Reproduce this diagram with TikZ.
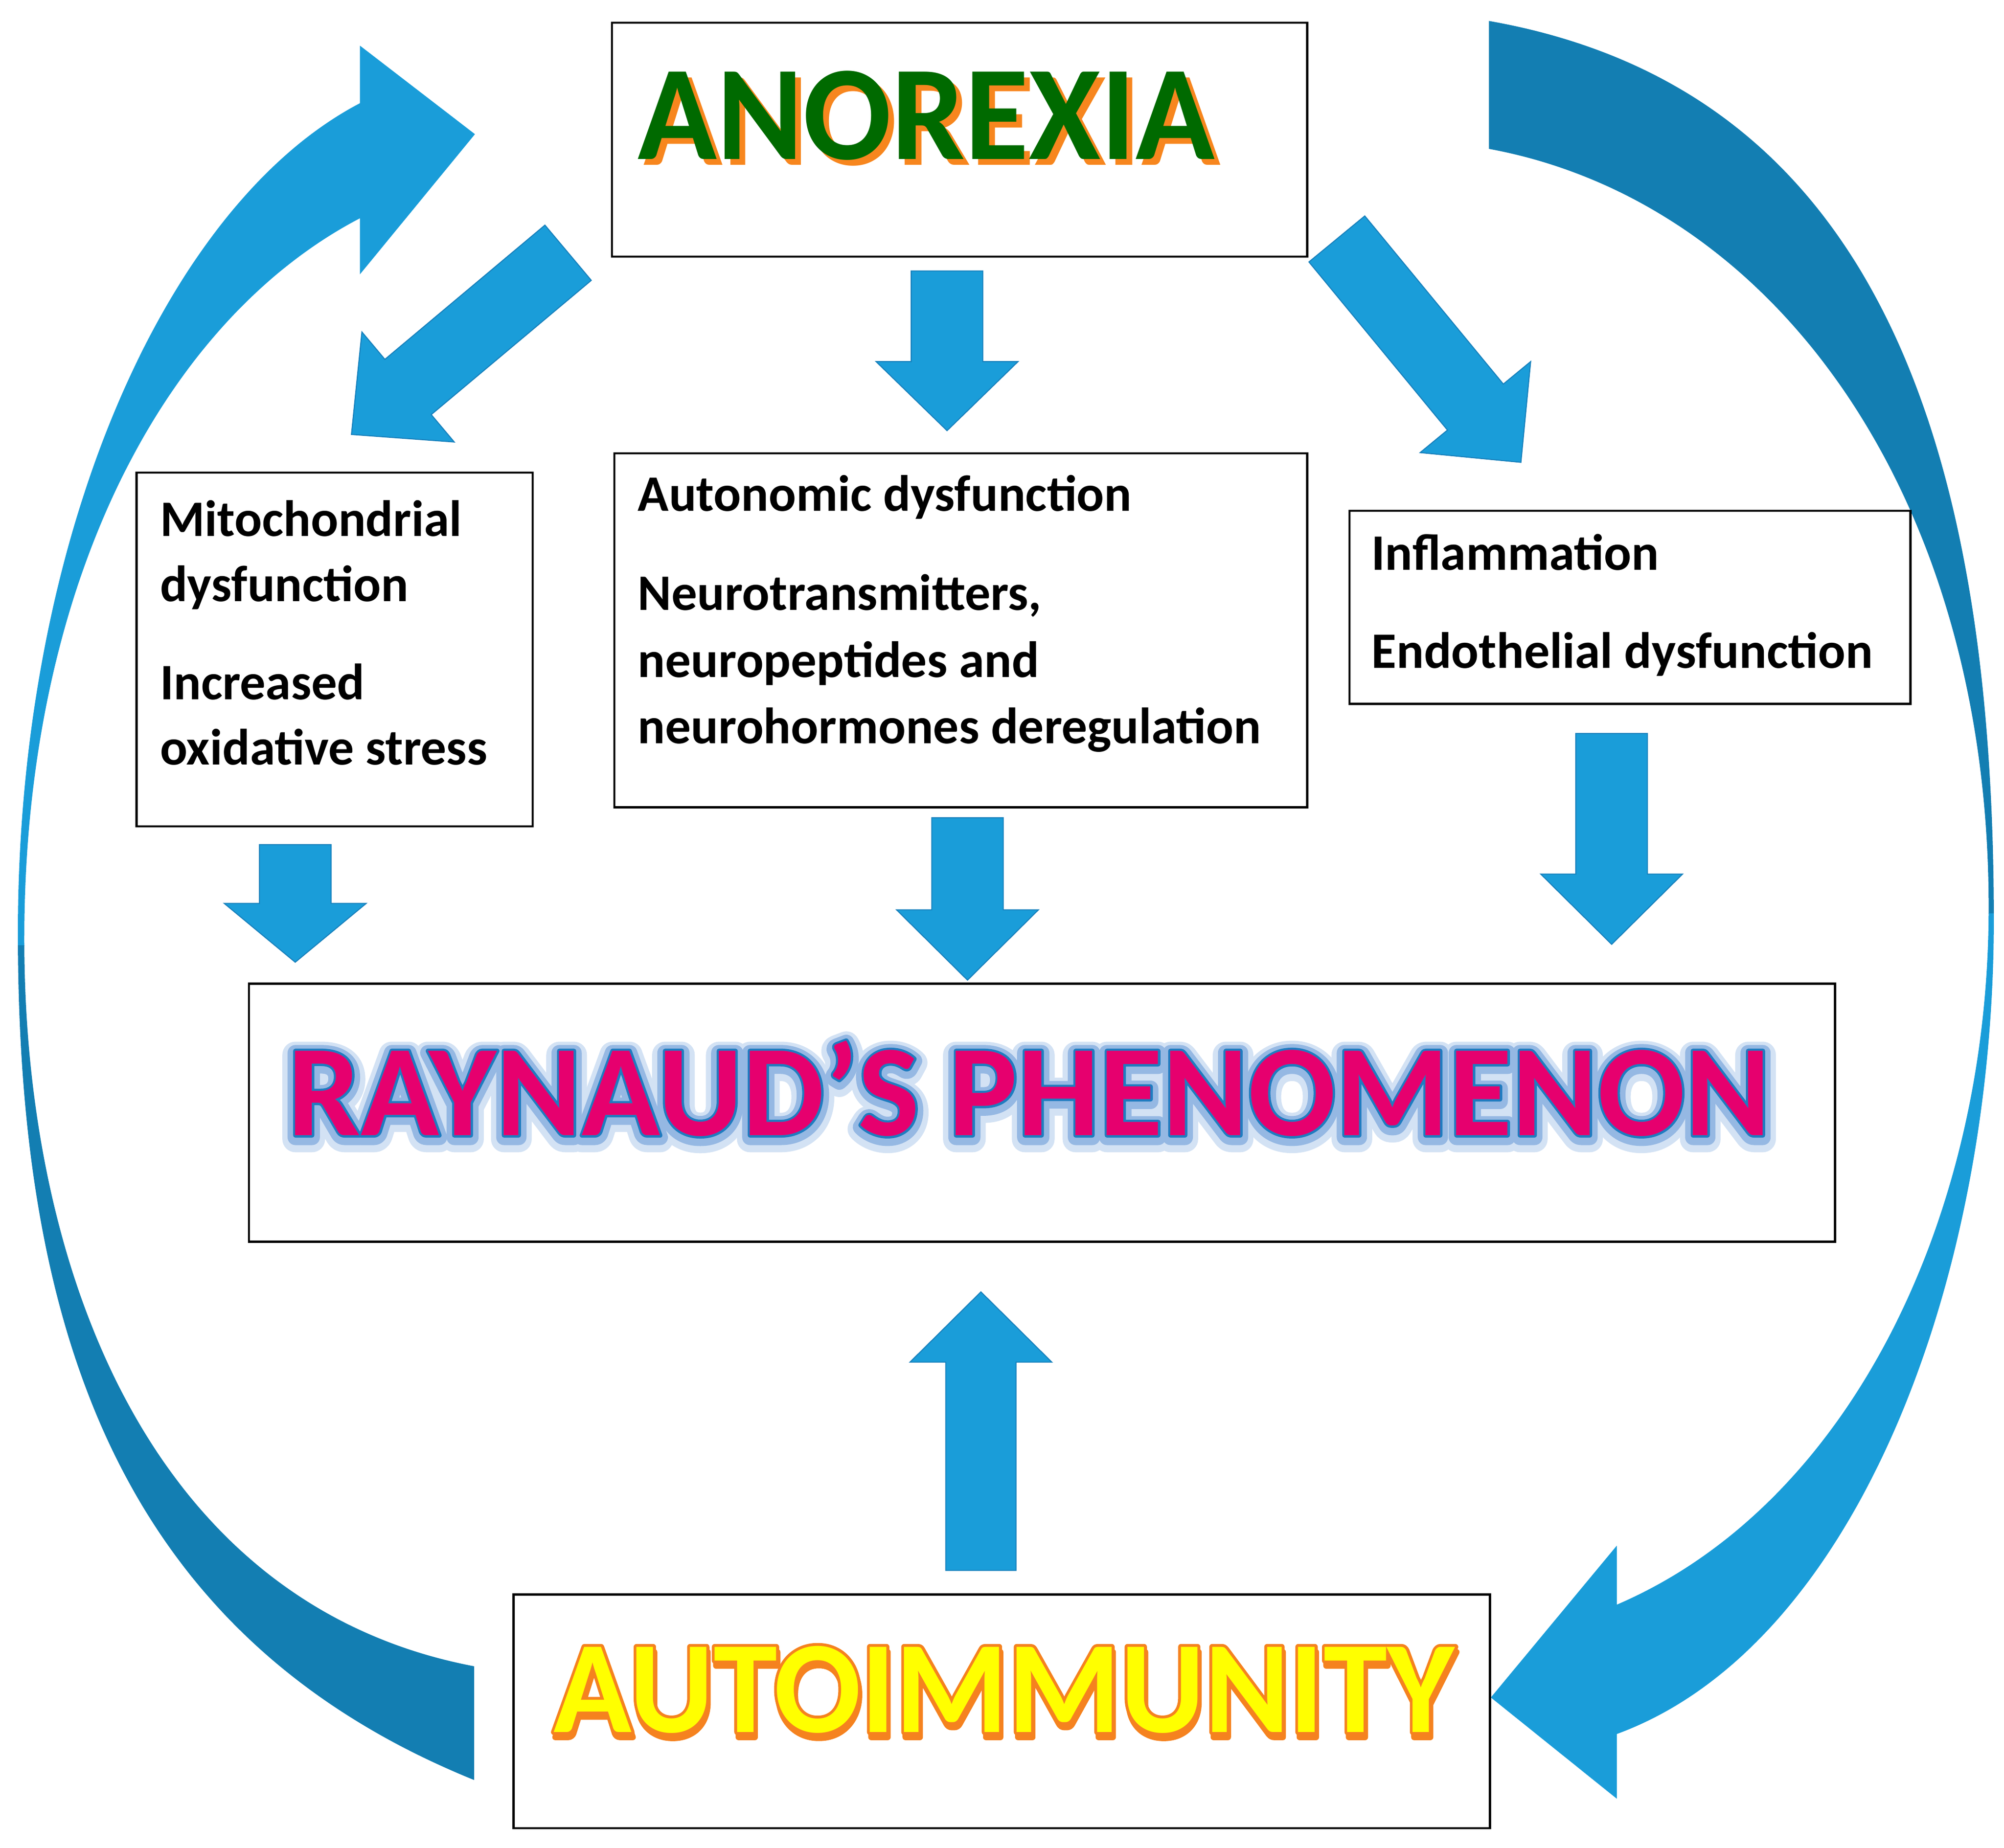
\documentclass[tikz,border=0pt]{standalone}
\usepackage{fontspec}
\setmainfont{Carlito}
\newfontfamily\rayfontGa{Carlito Bold}[FakeBold=20]
\newfontfamily\rayfontGb{Carlito Bold}[FakeBold=12]
\newfontfamily\rayfontL{Carlito Bold}[FakeBold=3.5]
\newfontfamily\rayfontM{Carlito Bold}
\newfontfamily\autofontO{Carlito Bold}[FakeBold=4.5]
\usetikzlibrary{calc}
\definecolor{arrowblue}{HTML}{1A9DD9}
\definecolor{arrowdark}{HTML}{137EB2}
\definecolor{arrowline}{HTML}{1780BC}
\definecolor{anogreen}{HTML}{006A00}
\definecolor{anoshadow}{HTML}{F7861E}
\definecolor{raymag}{HTML}{E6006E}
\definecolor{rayline}{HTML}{1F7CC0}
\definecolor{rayglow}{HTML}{95B8E3}
\definecolor{rayglowfade}{HTML}{D3E2F4}
\definecolor{autoyellow}{HTML}{FFFF00}
\definecolor{autoorange}{HTML}{F5821F}
\newcommand\anotext{\scalebox{0.97}[1]{\fontsize{105.4}{110}\selectfont\bfseries ANOREXIA}}
\newcommand\autotext[1]{\scalebox{0.98}[1]{#1\fontsize{102.8}{110}\selectfont AUTOIMMUNITY}}
\newcommand\raytext[1]{\scalebox{0.995}[1]{#1\fontsize{101.9}{110}\selectfont RAYNAUD’S PHENOMENON}}
\newcommand\blockarrow[5]{%
  \coordinate (bah) at ($(#2)!#3!(#1)$);
  \filldraw[blockfill] ($(#1)!#4!90:(#2)$) -- ($(bah)!#4!90:(#2)$) -- ($(bah)!#5!90:(#2)$) -- (#2)
    -- ($(bah)!#5!-90:(#2)$) -- ($(bah)!#4!-90:(#2)$) -- ($(#1)!#4!-90:(#2)$) -- cycle;}
\newcommand\leftcurvepath{(371.6,105) -- (281.6,35.7) -- (281.6,80.8)
  .. controls (130,160) and (14,420) .. (14,730)
  .. controls (14,1040) and (92.9,1280.2) .. (371,1393)
  -- (371,1304)
  .. controls (115.7,1255.4) and (19,990) .. (19,735)
  .. controls (19,455) and (130,250) .. (281.6,170.8)
  -- (281.6,214.7) -- cycle}
\newcommand\rightcurvepath{(1165,16.4)
  .. controls (1440,65) and (1560,300) .. (1560,720)
  .. controls (1560,1000) and (1452.8,1288.2) .. (1265,1357)
  -- (1265,1407.6) -- (1166.5,1328.4) -- (1265,1209.6) -- (1265,1255.8)
  .. controls (1448.8,1176.8) and (1556,950) .. (1556,710)
  .. controls (1556,390) and (1390,158) .. (1165,116.5)
  -- cycle}
\begin{document}
\begin{tikzpicture}[x=1pt,y=-1pt,
  box/.style={draw=black, line width=1.6pt, fill=white, anchor=north west, inner sep=0pt},
  bodytext/.style={anchor=base west, inner sep=0pt, font=\fontsize{40}{48}\selectfont\bfseries},
  blockfill/.style={fill=arrowblue, draw=arrowline, line width=0.8pt, line join=miter},
  titletext/.style={anchor=base, inner sep=0pt, line join=round}
]
\useasboundingbox (0,0) rectangle (1568,1446);
\fill[white] (0,0) rectangle (1568,1446);

% curved arrows
\begin{scope}
  \clip (0,0) rectangle (800,740);
  \fill[arrowblue] \leftcurvepath;
\end{scope}
\begin{scope}
  \clip (0,740) rectangle (800,1446);
  \fill[arrowdark] \leftcurvepath;
\end{scope}
\begin{scope}
  \clip (800,0) rectangle (1568,715);
  \fill[arrowdark] \rightcurvepath;
\end{scope}
\begin{scope}
  \clip (800,715) rectangle (1568,1446);
  \fill[arrowblue] \rightcurvepath;
\end{scope}

% boxes
\node[box, minimum width=544pt, minimum height=183pt] (anorexia) at (478,17) {};
\node[box, minimum width=310pt, minimum height=277pt] (mito) at (106,369) {};
\node[box, minimum width=542pt, minimum height=277pt] (auton) at (480,354) {};
\node[box, minimum width=439pt, minimum height=151pt] (infl) at (1055,399) {};
\node[box, minimum width=1241pt, minimum height=202pt] (raynaud) at (194,769) {};
\node[box, minimum width=764pt, minimum height=183pt] (autoimm) at (401,1247) {};

% block arrows
\coordinate (t1) at (741,212);   \coordinate (h1) at (741,337);
\coordinate (t2) at (444.5,197.8); \coordinate (h2) at (275,340);
\coordinate (t3) at (1046,187);  \coordinate (h3) at (1190,361.8);
\coordinate (t4) at (231,661);   \coordinate (h4) at (231,753);
\coordinate (t5) at (757,640);   \coordinate (h5) at (757,767);
\coordinate (t6) at (1261,574);  \coordinate (h6) at (1261,739);
\coordinate (t7) at (767.5,1229); \coordinate (h7) at (767.5,1011);
\blockarrow{t1}{h1}{54pt}{28pt}{55.5pt}
\blockarrow{t2}{h2}{57.8pt}{28.2pt}{56.2pt}
\blockarrow{t3}{h3}{56pt}{28.3pt}{56pt}
\blockarrow{t4}{h4}{46pt}{28pt}{55.5pt}
\blockarrow{t5}{h5}{55pt}{28pt}{55.5pt}
\blockarrow{t6}{h6}{55pt}{28pt}{55.5pt}
\blockarrow{t7}{h7}{55pt}{27.5pt}{55.5pt}

% body texts
\node[bodytext] (m1) at (125,419.6) {Mitochondrial};
\node[bodytext] (m2) at (125,470.6) {dysfunction};
\node[bodytext] (m3) at (125,547.6) {Increased};
\node[bodytext] (m4) at (125,598.6) {oxidative stress};
\node[bodytext] (n1) at (499,400) {Autonomic dysfunction};
\node[bodytext] (n2) at (499,477.5) {Neurotransmitters,};
\node[bodytext] (n3) at (499,530) {neuropeptides and};
\node[bodytext] (n4) at (499,582) {neurohormones deregulation};
\node[bodytext] (i1) at (1073,446) {Inflammation};
\node[bodytext] (i2) at (1073,523) {Endothelial dysfunction};

% ANOREXIA title
\coordinate (anoc) at (724.75,124.8);
\node[titletext, text=anoshadow] (anoshad) at ($(anoc)+(4.5,4.3)$) {\anotext};
\node[titletext, text=anogreen] (anotitle) at (anoc) {\anotext};

% RAYNAUD title with glow
\coordinate (rayc) at (805.25,888.5);
\node[titletext, text=rayglowfade] (raygla) at ($(rayc)+(0,3)$) {\raytext{\rayfontGa}};
\node[titletext, text=rayglow] (rayglb) at ($(rayc)+(0,1.5)$) {\raytext{\rayfontGb}};
\node[titletext, text=rayline] (rayln) at (rayc) {\raytext{\rayfontL}};
\node[titletext, text=raymag] (raytitle) at (rayc) {\raytext{\rayfontM}};

% AUTOIMMUNITY title
\coordinate (autoc) at (785.5,1355.5);
\node[titletext, text=autoorange] (autosh) at ($(autoc)+(1,4)$) {\autotext{\autofontO}};
\node[titletext, text=autoorange] (autool) at (autoc) {\autotext{\autofontO}};
\node[titletext, text=autoyellow] (autotitle) at (autoc) {\autotext{\rayfontM}};
\end{tikzpicture}
\end{document}
